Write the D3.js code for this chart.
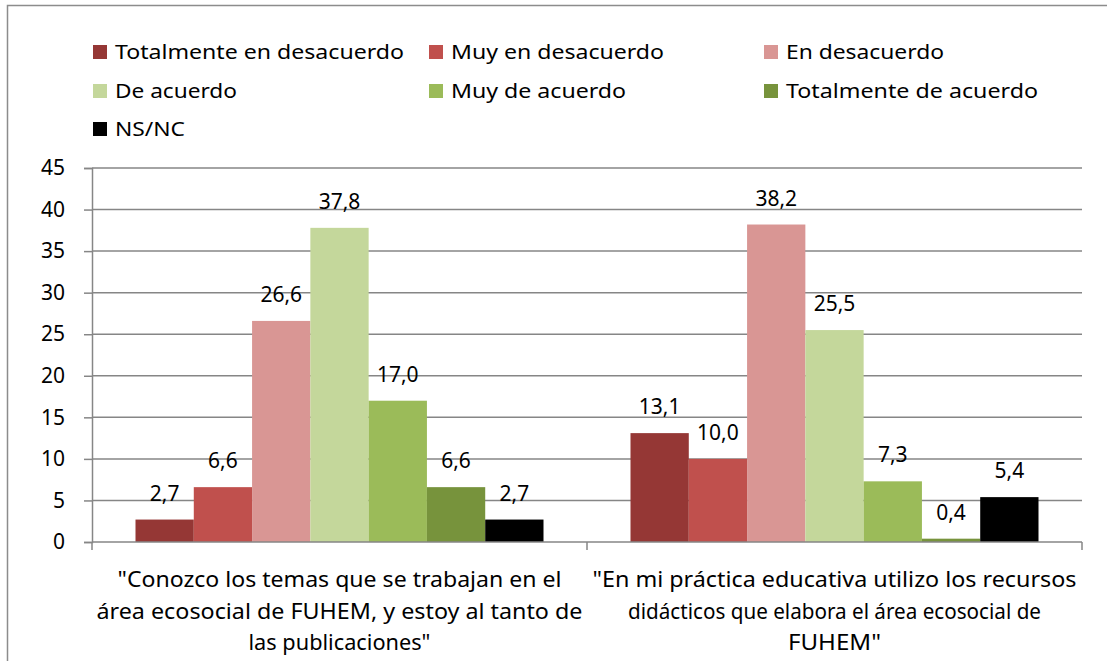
<!DOCTYPE html>
<html lang="es">
<head>
<meta charset="utf-8">
<script src="https://cdn.jsdelivr.net/npm/d3@7"></script>
<style>
  html, body { margin: 0; padding: 0; background: #fff; }
  svg { display: block; font-family: "Noto Sans", "Open Sans", sans-serif; }
</style>
</head>
<body>
<svg id="chart" width="1107" height="661"></svg>
<script>
// Survey statements (x categories), each split into answer lines
const categories = ["conozco", "practica"];
const categoryLines = [
  ['"Conozco los temas que se trabajan en el', 'área ecosocial de FUHEM, y estoy al tanto de', 'las publicaciones"'],
  ['"En mi práctica educativa utilizo los recursos', 'didácticos que elabora el área ecosocial de', 'FUHEM"']
];
// Answer options (series)
const series = ["Totalmente en desacuerdo", "Muy en desacuerdo", "En desacuerdo",
                "De acuerdo", "Muy de acuerdo", "Totalmente de acuerdo", "NS/NC"];
const seriesColors = ["#953735", "#C0504D", "#D99694", "#C4D79B", "#9BBB59", "#77933C", "#000000"];
// Percentages per statement, in series order
const valuesConozco  = [2.7, 6.6, 26.6, 37.8, 17.0, 6.6, 2.7];
const valuesPractica = [13.1, 10.0, 38.2, 25.5, 7.3, 0.4, 5.4];
const yTicks = [0, 5, 10, 15, 20, 25, 30, 35, 40, 45];

const allValues = [valuesConozco, valuesPractica];
const fmt = v => d3.format(".1f")(v).replace(".", ",");

const svg = d3.select("#chart");
const gridColor = "#868686";

// Outer chart frame
svg.append("path")
  .attr("d", "M7.5,661 V5.5 H1107")
  .attr("fill", "none").attr("stroke", "#8c8c8c").attr("stroke-width", 1.5);

const plot = { left: 92, right: 1082, top: 168, bottom: 542 };

const y = d3.scaleLinear().domain([0, 45]).range([plot.bottom, plot.top]);
const x0 = d3.scaleBand().domain(categories).range([plot.left, plot.right]);
const x1 = d3.scaleBand().domain(series)
  .range([43.5, x0.bandwidth() - 43.5]);

// Horizontal gridlines
svg.append("g").selectAll("line")
  .data(yTicks.filter(t => t > 0))
  .join("line")
  .attr("x1", plot.left).attr("x2", plot.right)
  .attr("y1", d => y(d)).attr("y2", d => y(d))
  .attr("stroke", gridColor).attr("stroke-width", 1.5);

// Y axis
const yAxis = svg.append("g")
  .attr("transform", `translate(${plot.left},0)`)
  .call(d3.axisLeft(y).tickValues(yTicks).tickSize(8).tickPadding(8).tickFormat(d3.format("d")));
yAxis.select(".domain").attr("stroke", gridColor).attr("stroke-width", 1.5);
yAxis.selectAll(".tick line").attr("stroke", gridColor).attr("stroke-width", 1.5);
yAxis.selectAll(".tick text")
  .attr("font-family", '"Noto Sans", sans-serif')
  .attr("font-size", 21).attr("fill", "#000").attr("x", -27);

// Bars
const groups = svg.append("g").selectAll("g")
  .data(categories)
  .join("g")
  .attr("transform", d => `translate(${x0(d)},0)`);

groups.selectAll("rect")
  .data((d, i) => series.map((s, j) => ({ s, v: allValues[i][j], c: seriesColors[j] })))
  .join("rect")
  .attr("x", d => x1(d.s))
  .attr("width", x1.bandwidth())
  .attr("y", d => y(d.v))
  .attr("height", d => y(0) - y(d.v))
  .attr("fill", d => d.c);

// Value labels
groups.selectAll("text.val")
  .data((d, i) => series.map((s, j) => ({ s, v: allValues[i][j] })))
  .join("text")
  .attr("class", "val")
  .attr("x", d => x1(d.s) + x1.bandwidth() / 2)
  .attr("y", d => y(d.v) - 19)
  .attr("text-anchor", "middle")
  .attr("font-size", 21)
  .attr("fill", "#000")
  .text(d => fmt(d.v));

// X axis line and category ticks
svg.append("line")
  .attr("x1", plot.left).attr("x2", plot.right)
  .attr("y1", plot.bottom).attr("y2", plot.bottom)
  .attr("stroke", gridColor).attr("stroke-width", 1.5);
svg.append("g").selectAll("line")
  .data([plot.left, plot.left + x0.bandwidth(), plot.right])
  .join("line")
  .attr("x1", d => d).attr("x2", d => d)
  .attr("y1", plot.bottom).attr("y2", plot.bottom + 8)
  .attr("stroke", gridColor).attr("stroke-width", 1.5);

// Category labels (condensed, centred under each group)
const lineWidths = [[444, 486, 182], [484, 413, 93]];
categories.forEach((c, i) => {
  const cx = x0(c) + x0.bandwidth() / 2;
  categoryLines[i].forEach((t, k) => {
    svg.append("text")
      .attr("x", cx)
      .attr("y", 587 + k * 31.5)
      .attr("text-anchor", "middle")
      .attr("font-size", 22)
      .attr("fill", "#000")
      .attr("textLength", lineWidths[i][k])
      .attr("lengthAdjust", "spacingAndGlyphs")
      .text(t);
  });
});

// Legend
const legendCols = [93, 429, 764];
const legendRows = [52, 91, 129];
const legendWidths = [289, 213, 158, 122, 175, 252, 70];
const legend = svg.append("g").selectAll("g")
  .data(series)
  .join("g")
  .attr("transform", (d, i) => `translate(${legendCols[i % 3]},${legendRows[Math.floor(i / 3)]})`);
legend.append("rect")
  .attr("x", 0).attr("y", -7).attr("width", 14).attr("height", 14)
  .attr("fill", (d, i) => seriesColors[i]);
legend.append("text")
  .attr("x", 22).attr("y", 7)
  .attr("font-size", 20)
  .attr("fill", "#000")
  .attr("textLength", (d, i) => legendWidths[i])
  .attr("lengthAdjust", "spacingAndGlyphs")
  .text(d => d);
</script>
</body>
</html>
